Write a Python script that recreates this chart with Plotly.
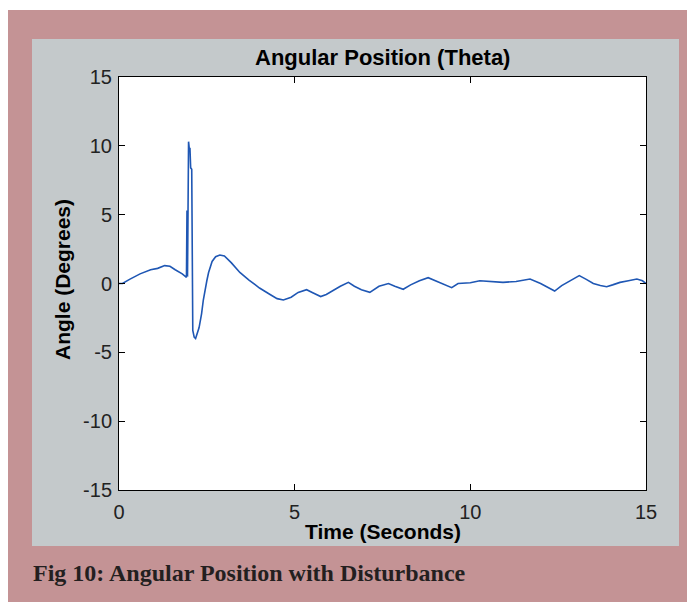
import plotly.graph_objects as go

# ---- data ----
time_s = [0.0, 0.1, 0.3, 0.6, 0.9, 1.1, 1.3, 1.45, 1.6, 1.8, 1.92,
          1.935, 1.95, 1.98, 2.0, 2.02, 2.04, 2.07, 2.1, 2.14, 2.18, 2.22,
          2.28, 2.35, 2.4, 2.5, 2.55, 2.65, 2.75, 2.87, 3.0, 3.2, 3.44,
          3.7, 4.0, 4.3, 4.5, 4.68, 4.9, 5.1, 5.34, 5.5, 5.74, 5.9, 6.1,
          6.3, 6.53, 6.7, 6.9, 7.14, 7.4, 7.67, 7.85, 8.09, 8.3, 8.55,
          8.8, 9.0, 9.2, 9.47, 9.65, 10.0, 10.27, 10.6, 10.93, 11.3, 11.7,
          12.0, 12.2, 12.4, 12.6, 12.85, 13.1, 13.3, 13.5, 13.7, 13.88,
          14.05, 14.26, 14.5, 14.74, 14.9, 15.0]
theta_deg = [0.0, 0.0, 0.3, 0.7, 1.0, 1.1, 1.3, 1.25, 1.0, 0.7, 0.45,
             5.3, 0.5, 10.3, 9.8, 9.8, 8.4, 8.3, -3.4, -3.9, -4.0, -3.6,
             -3.2, -2.2, -1.2, 0.2, 0.8, 1.6, 1.95, 2.07, 2.0, 1.5, 0.8,
             0.25, -0.33, -0.8, -1.1, -1.2, -1.0, -0.65, -0.45, -0.65, -0.95, -0.8, -0.47,
             -0.2, 0.08, -0.2, -0.45, -0.64, -0.2, 0.0, -0.2, -0.42, -0.1, 0.2,
             0.42, 0.2, -0.05, -0.3, 0.0, 0.05, 0.2, 0.15, 0.08, 0.15, 0.33,
             0.0, -0.3, -0.55, -0.15, 0.2, 0.57, 0.3, 0.0, -0.15, -0.23,
             -0.1, 0.08, 0.2, 0.33, 0.2, 0.0]

x_ticks = [0, 5, 10, 15]
y_ticks = [-15, -10, -5, 0, 5, 10, 15]

title_text = "Angular Position (Theta)"
xlabel = "Time (Seconds)"
ylabel = "Angle (Degrees)"
caption = "Fig 10: Angular Position with Disturbance"

# ---- layout geometry (window pixels; page body has an 8px margin) ----
OFF = 8
WIN_W, WIN_H = 695, 602
W, H = WIN_W - OFF, WIN_H - OFF
L, R, T, B = 119, 646, 77, 490   # plot area in window pixels
pw, ph = R - L, B - T


def px(xp):
    return (xp - L) / pw


def py(yp):
    return (B - yp) / ph


PINK = "#c49395"
GRAY = "#c4c9cb"
SANS = "Liberation Sans, Arial, Helvetica, sans-serif"
SERIF = "Liberation Serif, Times New Roman, serif"

fig = go.Figure()
fig.add_trace(go.Scatter(x=time_s, y=theta_deg, mode="lines",
                         line=dict(color="#1f57b4", width=1.6),
                         showlegend=False, hoverinfo="x+y"))

shapes = [
    dict(type="rect", xref="paper", yref="paper", x0=px(0), x1=px(WIN_W + 20), y0=py(-20), y1=py(10),
         fillcolor="white", line_width=0, layer="below"),
    dict(type="rect", xref="paper", yref="paper", x0=px(32), x1=px(679), y0=py(39), y1=py(546),
         fillcolor=GRAY, line_width=0, layer="below"),
    dict(type="rect", xref="paper", yref="paper", x0=0, x1=1, y0=0, y1=1,
         fillcolor="white", line_width=0, layer="below"),
]

annotations = [
    dict(text="<b>" + title_text + "</b>", xref="paper", yref="paper", x=0.5, y=py(58),
         showarrow=False, xanchor="center", yanchor="middle",
         font=dict(family=SANS, size=22, color="black")),
    dict(text="<b>" + xlabel + "</b>", xref="paper", yref="paper", x=0.5, y=py(531),
         showarrow=False, xanchor="center", yanchor="middle",
         font=dict(family=SANS, size=21, color="black")),
    dict(text="<b>" + ylabel + "</b>", xref="paper", yref="paper", x=px(62), y=py(280),
         showarrow=False, xanchor="center", yanchor="middle", textangle=-90,
         font=dict(family=SANS, size=21, color="black")),
    dict(text="<b>" + caption + "</b>", xref="paper", yref="paper", x=px(31), y=py(573),
         showarrow=False, xanchor="left", yanchor="middle",
         font=dict(family=SERIF, size=24, color="#231f20")),
]

axis_common = dict(showgrid=False, zeroline=False, showline=True, linecolor="black",
                   linewidth=1, mirror="ticks", ticks="inside", ticklen=6,
                   tickcolor="black", tickwidth=1,
                   tickfont=dict(family=SANS, size=20, color="#222222"))

fig.update_layout(
    width=W, height=H,
    margin=dict(l=L - OFF, r=WIN_W - R, t=T - OFF, b=WIN_H - B, pad=0),
    paper_bgcolor=PINK, plot_bgcolor="white",
    shapes=shapes, annotations=annotations,
    xaxis=dict(range=[0, 15], tickvals=x_ticks, ticktext=[str(v) for v in x_ticks],
               ticklabelstandoff=4, **axis_common),
    yaxis=dict(range=[-15, 15], tickvals=y_ticks, ticktext=[str(v) for v in y_ticks],
               ticklabelstandoff=2, **axis_common),
)

fig.write_html("out.html")
